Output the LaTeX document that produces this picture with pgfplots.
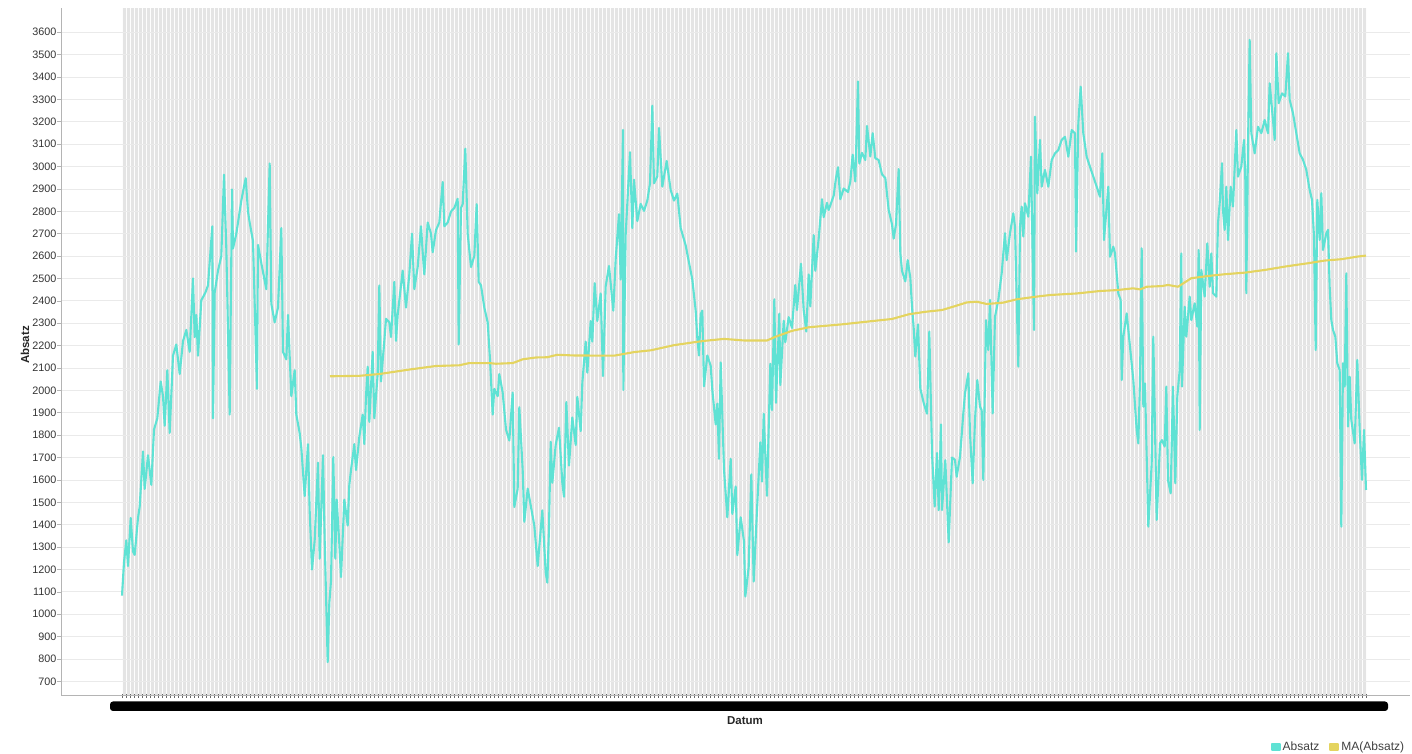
\documentclass[border=0pt]{standalone}
\usepackage{fontspec}
\setmainfont{Liberation Sans}
\usepackage{pgfplots}
\pgfplotsset{compat=1.18}
\definecolor{absatz}{HTML}{5FE2D4}
\definecolor{maline}{HTML}{E4D45F}
\definecolor{band}{HTML}{E4E4E4}
\definecolor{gridc}{HTML}{EAEAEA}
\definecolor{axisc}{HTML}{B4B4B4}
\begin{document}
\begin{tikzpicture}
\begin{axis}[
  at={(61pt,58.3pt)}, anchor=south west,
  scale only axis, width=1349pt, height=687.4pt,
  xmin=-15.25, xmax=322, ymin=636, ymax=3707,
  set layers,
  axis x line*=bottom, axis y line*=left,
  axis line style={draw=axisc, line width=0.8pt},
  xtick={0,...,311}, xticklabels={},
  ytick={700,800,...,3600},
  xmajorgrids, ymajorgrids,
  x grid style={white!92!band, line width=0.85pt},
  y grid style={gridc, line width=0.8pt},
  major tick length=4pt,
  xtick align=center, ytick align=outside,
  xtick style={draw=black!60, line width=0.7pt},
  ytick style={draw=axisc, line width=0.6pt},
  tick label style={font=\fontsize{10.8}{13}\selectfont, text=black!80},
  yticklabel style={inner sep=0.5pt},
  /pgf/number format/assume math mode=true,
  /pgf/number format/1000 sep={},
  legend columns=2,
  legend style={at={(0.8965,-0.0746)}, anchor=west, draw=none, fill=none,
    inner sep=0pt, font=\fontsize{12}{14}\selectfont, text=black!75,
    /tikz/every even column/.append style={column sep=8pt}},
  legend image code/.code={\fill[#1] (0pt,-3.2pt) rectangle (8pt,3.2pt);},
]
\begin{pgfonlayer}{axis background}
\fill[band] (axis cs:0,636) rectangle (axis cs:311,3707);
\end{pgfonlayer}
\addplot[absatz, line width=2.1pt, line join=round] coordinates {
(0,1083)(0.5,1232)(1.08,1330)(1.5,1215)(2.17,1430)(2.75,1280)(3.17,1265)(4,1430)(4.42,1480)(5.25,1727)(5.67,1560)(6.5,1710)(7.33,1578)(8,1825)(8.83,1875)(9.67,2040)(10.25,1974)(10.67,1842)(11.33,2090)(11.92,1810)(12.75,2155)(13.58,2205)(14.42,2073)(15.25,2220)(16.08,2270)(16.92,2172)(17.75,2500)(18.17,2238)(18.58,2337)(19,2155)(19.83,2403)(20.83,2436)(21.5,2469)(22.58,2733)(22.75,1875)(23.17,2436)(24,2535)(24.83,2600)(25.5,2964)(26.08,2634)(26.92,1892)(27.5,2898)(27.75,2634)(28.58,2700)(29.42,2799)(29.83,2848)(30.92,2948)(31.5,2799)(31.92,2750)(32.75,2667)(33.75,2007)(34,2650)(34.83,2568)(36.08,2452)(36.92,3014)(37.33,2387)(38.17,2304)(39,2370)(39.83,2725)(40.25,2172)(41.08,2139)(41.5,2337)(42.33,1974)(43.17,2090)(43.58,1892)(44.42,1809)(44.83,1743)(45.67,1528)(46.5,1760)(46.92,1462)(47.5,1200)(48.17,1330)(49,1677)(49.42,1248)(50.25,1710)(50.67,1330)(51.42,786)(51.83,1050)(52.25,1149)(52.83,1702)(53.33,1248)(53.67,1512)(54.33,1314)(54.75,1166)(55.58,1512)(56.42,1396)(56.83,1578)(57.25,1644)(58.08,1760)(58.5,1644)(59.33,1792)(60.17,1892)(60.58,1760)(61,1974)(61.42,2106)(61.83,1859)(62.67,2172)(63.08,1875)(63.92,2073)(64.33,2469)(64.75,2040)(65.58,2221)(66,2320)(66.83,2304)(67.25,2238)(68.08,2485)(68.5,2221)(68.92,2337)(70.17,2535)(71,2370)(71.83,2518)(72.5,2700)(73.08,2452)(73.92,2551)(74.75,2733)(75.17,2617)(75.58,2518)(76.42,2750)(77.25,2700)(77.67,2617)(78.5,2716)(79.33,2750)(80.17,2931)(80.58,2733)(81.42,2750)(82.25,2799)(83.08,2815)(83.92,2856)(84.17,2205)(84.75,2815)(85.17,2832)(85.83,3080)(86.42,2700)(87.25,2551)(88.08,2601)(88.67,2832)(89.17,2485)(89.75,2469)(90.58,2370)(91.42,2304)(92,2139)(92.67,1892)(93.08,2007)(93.92,1974)(94.33,2073)(95.17,1990)(96,1825)(96.83,1776)(97.67,1990)(98.08,1479)(98.92,1561)(99.33,1925)(100.17,1644)(100.58,1413)(101.42,1561)(102.25,1479)(103.08,1396)(103.92,1215)(105.08,1464)(105.92,1187)(106.33,1141)(106.75,1387)(107.17,1771)(107.58,1587)(108.42,1756)(109.25,1833)(110.08,1587)(110.5,1525)(111.08,1948)(111.75,1664)(112.58,1879)(113.42,1756)(113.83,1971)(114.67,1818)(115.08,2033)(115.92,2218)(116.33,2079)(117.17,2310)(117.58,2218)(118.17,2479)(118.83,2310)(119.67,2433)(120.25,2064)(120.92,2464)(121.75,2556)(122.83,2356)(123.42,2587)(124.25,2787)(124.67,2495)(125.25,3164)(125.33,2002)(125.92,2695)(127,3064)(127.58,2725)(128,2941)(128.83,2756)(129.67,2833)(130.5,2802)(131.33,2848)(132,2925)(132.58,3272)(133,2925)(133.83,2956)(134.25,3172)(135.08,2910)(136.17,3025)(137.17,2895)(138,2848)(138.83,2879)(139.67,2725)(140.92,2648)(141.75,2571)(142.58,2495)(143.42,2356)(143.83,2233)(144.25,2156)(144.67,2341)(145.08,2356)(145.5,2018)(146.33,2156)(147.17,2110)(147.58,2002)(148.42,1848)(148.83,1941)(149.25,1694)(149.67,2125)(150.5,1648)(151.33,1433)(152.17,1694)(152.58,1448)(153.42,1571)(153.83,1264)(154.67,1433)(155.5,1325)(155.83,1079)(156.67,1210)(157.33,1625)(157.92,1146)(158.75,1465)(159.58,1768)(160,1593)(160.42,1896)(161.25,1529)(162.08,2119)(162.5,1912)(163.08,2407)(163.5,1944)(164.33,2343)(164.58,2024)(165.42,2311)(165.83,2215)(166.67,2327)(167.5,2279)(168.33,2471)(168.75,2359)(169.75,2566)(170.42,2359)(171.08,2263)(171.67,2518)(172.08,2375)(172.92,2694)(173.33,2534)(174.17,2678)(175,2854)(175.42,2774)(176.25,2838)(176.67,2806)(177.92,2870)(178.5,2949)(179,2997)(179.58,2854)(180.42,2902)(181.5,2886)(182.08,2933)(182.67,3053)(183.33,2933)(184,3380)(184.33,3013)(185,3061)(185.83,3029)(186.25,3181)(187.08,3045)(187.67,3149)(188.33,3037)(189.17,3029)(190,2965)(190.83,2949)(191.67,2806)(192.5,2742)(192.92,2678)(193.5,2742)(194.17,2989)(194.58,2614)(195,2534)(195.83,2487)(196.42,2582)(197.08,2503)(197.5,2375)(197.92,2279)(198.33,2151)(199,2295)(199.58,2008)(200.42,1944)(201.25,1896)(201.83,2263)(202.5,1720)(203.17,1481)(203.75,1720)(204.17,1465)(204.75,1848)(205,1465)(205.83,1688)(206.67,1321)(207.5,1700)(208.25,1689)(208.67,1614)(209.5,1704)(210.33,1897)(210.75,1987)(211.58,2076)(212,1808)(212.67,1585)(213.25,1867)(213.83,2046)(214.5,1927)(214.92,1912)(215.33,1600)(216,2314)(216.58,2180)(217,2404)(217.67,1897)(218.25,2329)(219.08,2404)(219.92,2523)(220.75,2702)(221.17,2582)(222,2702)(222.83,2791)(223.25,2731)(224.08,2106)(224.5,2731)(224.92,2821)(225.33,2687)(225.75,2836)(226.58,2776)(227.25,3044)(227.42,2851)(228,2270)(228.25,3223)(228.83,2880)(229.5,3119)(229.92,2910)(230.75,2985)(231.58,2910)(232.42,3029)(233.25,3059)(234.08,3074)(234.92,3119)(235.75,3133)(236.58,3044)(237.42,3163)(238.25,3148)(238.5,2620)(239.08,3193)(239.67,3357)(240.33,3148)(241.17,3044)(242,2999)(242.83,2955)(243.67,2910)(244.5,2865)(245.08,3059)(245.5,2672)(246.58,2910)(247,2597)(247.83,2642)(248.25,2612)(249.08,2433)(249.67,2404)(249.92,2046)(250.33,2240)(251.17,2344)(252,2195)(252.83,2046)(253.67,1823)(254.08,1763)(254.5,2046)(254.92,2635)(255.33,1927)(255.75,2031)(256.58,1391)(257.42,1674)(257.83,2240)(258.67,1421)(259.5,1763)(260,1778)(260.67,1749)(261.08,2017)(261.5,1600)(262.17,1540)(262.75,2017)(263.33,1585)(263.83,1972)(264.42,2091)(264.83,2612)(265,2017)(265.67,2374)(266.08,2240)(266.92,2419)(267.33,2314)(268.17,2389)(268.83,2285)(269.17,2627)(269.42,1823)(269.83,2538)(270.67,2419)(271.33,2657)(271.92,2463)(272.33,2612)(272.75,2434)(273.58,2419)(274,2747)(274.42,2836)(275,3015)(275.25,2806)(275.67,2717)(276.08,2910)(276.5,2672)(277.17,2910)(277.75,2821)(278.58,3163)(279,2955)(279.83,3000)(280.5,3119)(280.83,2940)(281.08,2434)(281.5,3089)(281.92,3566)(282.33,3149)(283.17,3059)(284,3178)(284.83,3149)(285.67,3208)(286.5,3149)(286.92,3372)(287.75,3208)(288.17,3119)(288.58,3506)(289.17,3283)(290,3327)(290.83,3313)(291.5,3506)(291.92,3298)(292.75,3238)(293.58,3149)(294.42,3059)(295.25,3030)(296.08,2985)(296.92,2895)(297.5,2851)(298,2687)(298.42,2180)(298.83,2851)(299.42,2672)(299.83,2881)(300.25,2627)(301.08,2702)(301.5,2717)(301.92,2463)(302.33,2314)(302.75,2270)(303.33,2240)(303.83,2121)(304.42,2091)(304.83,1391)(305.25,2121)(305.67,2017)(306.08,2523)(306.5,1838)(306.92,2061)(307.33,1868)(308.17,1763)(308.83,2136)(309.42,1823)(310,1600)(310.5,1823)(311,1555)
};
\addplot[maline, line width=2.1pt, line join=round] coordinates {
(52,2063)(59.3,2065)(64.3,2073)(71.8,2093)(78.5,2109)(84.3,2112)(86.8,2122)(91.8,2122)(93.5,2119)(97.7,2122)(100.2,2139)(103.5,2147)(106.3,2148)(108.8,2159)(113,2156)(123,2155)(128,2171)(132.2,2179)(138,2202)(143,2215)(145.5,2221)(150.5,2230)(155.5,2223)(161.25,2223)(163.3,2239)(167.5,2266)(171.7,2282)(180,2295)(188.3,2311)(192.5,2319)(196.7,2340)(200.8,2351)(205,2359)(208,2375)(211.2,2393)(213.7,2396)(216.2,2386)(220.3,2392)(223.7,2407)(228.7,2419)(232,2426)(238.7,2433)(244.5,2444)(248.7,2448)(252.8,2456)(254.5,2451)(256.2,2463)(260,2466)(261.5,2471)(264,2463)(267.3,2501)(271.5,2511)(275.7,2519)(280.7,2526)(285.7,2538)(290.7,2553)(296.5,2568)(300.7,2580)(304.8,2586)(309,2598)(311,2602)
};
\legend{Absatz, MA(Absatz)}
\end{axis}
\fill[black, rounded corners=3pt] (110pt,43pt) rectangle (1388pt,52.5pt);
\node[rotate=90, font=\bfseries\fontsize{11.5}{13}\selectfont, text=black!85] at (25pt,409pt) {Absatz};
\node[font=\bfseries\fontsize{11.5}{13}\selectfont, text=black!85] at (745pt,33pt) {Datum};
\pgfresetboundingbox
\path[use as bounding box] (0pt,0pt) rectangle (1412pt,754pt);
\end{tikzpicture}
\end{document}
